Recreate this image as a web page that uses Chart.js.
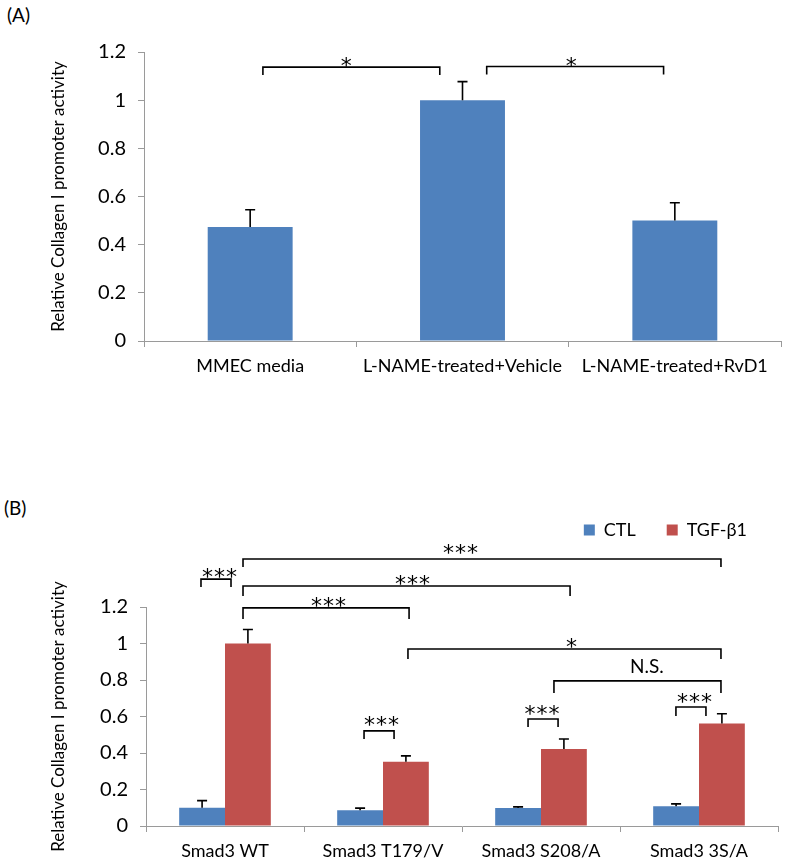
<!DOCTYPE html>
<html>
<head>
<meta charset="utf-8">
<script src="https://cdn.jsdelivr.net/npm/chart.js"></script>
<style>
body{margin:0;background:#fff;width:787px;height:867px;position:relative;overflow:hidden;font-family:Lato,sans-serif}
.panel{position:absolute;font-size:19px;color:#000}
#boxA{position:absolute;left:0;top:0;width:787px;height:420px}
#boxB{position:absolute;left:0;top:470px;width:787px;height:397px}
</style>
</head>
<body>
<div class="panel" style="left:7px;top:3px">(A)</div>
<div class="panel" style="left:4px;top:496px">(B)</div>
<div id="boxA"><canvas id="graficoA"></canvas></div>
<div id="boxB"><canvas id="graficoB"></canvas></div>
<script>
// datos
const etiquetasA=['MMEC media','L-NAME-treated+Vehicle','L-NAME-treated+RvD1'];
const valoresA=[0.473,1.0,0.50];
const erroresA=[0.072,0.077,0.074];

const etiquetasB=['Smad3 WT','Smad3 T179/V','Smad3 S208/A','Smad3 3S/A'];
const seriesB=['CTL','TGF-β1'];
const valoresCTL=[0.10,0.086,0.098,0.108];
const erroresCTL=[0.039,0.012,0.007,0.013];
const valoresTGF=[1.0,0.352,0.422,0.561];
const erroresTGF=[0.077,0.032,0.055,0.054];

const ticksY=[0,0.2,0.4,0.6,0.8,1,1.2];
const tituloY='Relative Collagen I promoter activity';

// corchetes de significancia (x en unidades de categoria, y en unidades del eje)
const corchetesA=[
    {x1:0.06,x2:0.893,y:1.137,y1:1.104,y2:1.104,txt:'*',tx:0.455,ty:1.165},
    {x1:1.114,x2:1.947,y:1.14,y1:1.107,y2:1.107,txt:'*',tx:1.514,ty:1.168}
];
const corchetesB=[
    {x1:-0.152,x2:0.038,y:1.353,y1:1.31,y2:1.31,txt:'***',tx:-0.032,ty:1.40},
    {x1:0.114,x2:3.139,y:1.463,y1:1.419,y2:1.419,txt:'***',tx:1.494,ty:1.529},
    {x1:0.114,x2:2.184,y:1.315,y1:1.26,y2:1.26,txt:'***',tx:1.19,ty:1.359},
    {x1:0.114,x2:1.165,y:1.195,y1:1.134,y2:1.134,txt:'***',tx:0.658,ty:1.238},
    {x1:1.158,x2:3.139,y:0.970,y1:0.915,y2:0.915,txt:'*',tx:2.196,ty:1.014},
    {x1:2.082,x2:3.139,y:0.795,y1:0.729,y2:0.729,txt:'N.S.',tx:2.67,ty:0.871},
    {x1:0.88,x2:1.07,y:0.521,y1:0.477,y2:0.477,txt:'***',tx:0.994,ty:0.586},
    {x1:1.918,x2:2.108,y:0.586,y1:0.542,y2:0.542,txt:'***',tx:2.01,ty:0.647},
    {x1:2.854,x2:3.044,y:0.652,y1:0.603,y2:0.603,txt:'***',tx:2.975,ty:0.712}
];

Chart.defaults.font.family='Lato, sans-serif';
Chart.defaults.color='#000';

const gris='#9a9a9a';

const barrasError={
    id:'barrasError',
    afterDatasetsDraw(chart){
        const ctx=chart.ctx;
        const ys=chart.scales.y;
        ctx.save();
        ctx.strokeStyle='#000';
        ctx.lineWidth=1.6;
        chart.data.datasets.forEach((ds,i)=>{
            const meta=chart.getDatasetMeta(i);
            meta.data.forEach((bar,j)=>{
                const yTop=ys.getPixelForValue(ds.data[j]+ds.errores[j]);
                ctx.beginPath();
                ctx.moveTo(bar.x,bar.y);
                ctx.lineTo(bar.x,yTop);
                ctx.moveTo(bar.x-5,yTop);
                ctx.lineTo(bar.x+5,yTop);
                ctx.stroke();
            })
        })
        ctx.restore();
    }
}

const dibujarCorchetes=(lista)=>({
    id:'corchetes',
    afterDraw(chart){
        const ctx=chart.ctx;
        const xs=chart.scales.x,ys=chart.scales.y;
        ctx.save();
        ctx.strokeStyle='#000';
        ctx.fillStyle='#000';
        ctx.lineWidth=1.6;
        lista.forEach(c=>{
            const a=xs.getPixelForValue(c.x1),b=xs.getPixelForValue(c.x2);
            const y=ys.getPixelForValue(c.y);
            ctx.beginPath();
            ctx.moveTo(a,ys.getPixelForValue(c.y1));
            ctx.lineTo(a,y);
            ctx.lineTo(b,y);
            ctx.lineTo(b,ys.getPixelForValue(c.y2));
            ctx.stroke();
            const tx=xs.getPixelForValue(c.tx),ty=ys.getPixelForValue(c.ty);
            ctx.textAlign='center';
            if(c.txt.indexOf('*')>=0){
                ctx.font='22px "DejaVu Sans", sans-serif';
                ctx.textBaseline='alphabetic';
                ctx.letterSpacing='1px';
                ctx.fillText(c.txt,tx,ty+13);
            }else{
                ctx.font='19px Lato, sans-serif';
                ctx.textBaseline='middle';
                ctx.letterSpacing='0px';
                ctx.fillText(c.txt,tx,ty);
            }
        })
        ctx.restore();
    }
})

const ejeY=(ancho)=>({
    min:0,max:1.2,
    afterBuildTicks:s=>{s.ticks=ticksY.map(v=>({value:v}))},
    afterFit:s=>{s.width=ancho},
    ticks:{font:{size:20},padding:12,callback:v=>String(+v.toFixed(1))},
    grid:{drawOnChartArea:false,tickLength:6,color:gris},
    border:{color:gris},
    title:{display:true,text:tituloY,font:{size:17},padding:{top:0,bottom:0}}
})

const ejeX=(alto)=>({
    afterFit:s=>{s.height=alto},
    ticks:{font:{size:18},padding:8,maxRotation:0,autoSkip:false},
    grid:{drawOnChartArea:false,tickLength:6,color:gris,offset:true},
    border:{color:gris}
})

const graficoA=()=>{
    let ctx=document.getElementById('graficoA');
    new Chart(ctx,{
        type:'bar',
        data:{
            labels:etiquetasA,
            datasets:[{
                label:'A',
                data:valoresA,
                errores:erroresA,
                backgroundColor:'#4F81BD',
                barPercentage:0.4,
                categoryPercentage:1.0
            }]
        },
        options:{
            maintainAspectRatio:false,
            responsive:true,
            animation:false,
            layout:{padding:{top:52,left:48,right:6,bottom:39}},
            plugins:{legend:{display:false},tooltip:{enabled:false}},
            scales:{x:ejeX(40),y:ejeY(96)}
        },
        plugins:[barrasError,dibujarCorchetes(corchetesA)]
    });
}

const leyendaAlta={
    id:'leyendaAlta',
    beforeInit(chart){
        const fitOrig=chart.legend.fit;
        chart.legend.fit=function(){
            fitOrig.bind(chart.legend)();
            this.height=117;
        }
    }
}

const graficoB=()=>{
    let ctx=document.getElementById('graficoB');
    new Chart(ctx,{
        type:'bar',
        data:{
            labels:etiquetasB,
            datasets:[{
                label:seriesB[0],
                data:valoresCTL,
                errores:erroresCTL,
                backgroundColor:'#4F81BD',
                borderWidth:0,
                barPercentage:1.0,
                categoryPercentage:0.58
            },{
                label:seriesB[1],
                data:valoresTGF,
                errores:erroresTGF,
                backgroundColor:'#C0504D',
                borderWidth:0,
                barPercentage:1.0,
                categoryPercentage:0.58
            }]
        },
        options:{
            maintainAspectRatio:false,
            responsive:true,
            animation:false,
            layout:{padding:{top:20,left:48,right:9,bottom:6}},
            plugins:{
                legend:{
                    position:'top',
                    align:'end',
                    labels:{boxWidth:11,boxHeight:11,padding:31,font:{size:18}}
                },
                tooltip:{enabled:false}
            },
            scales:{x:ejeX(35),y:ejeY(98)}
        },
        plugins:[leyendaAlta,barrasError,dibujarCorchetes(corchetesB)]
    });
}

graficoA()
graficoB()
</script>
</body>
</html>
